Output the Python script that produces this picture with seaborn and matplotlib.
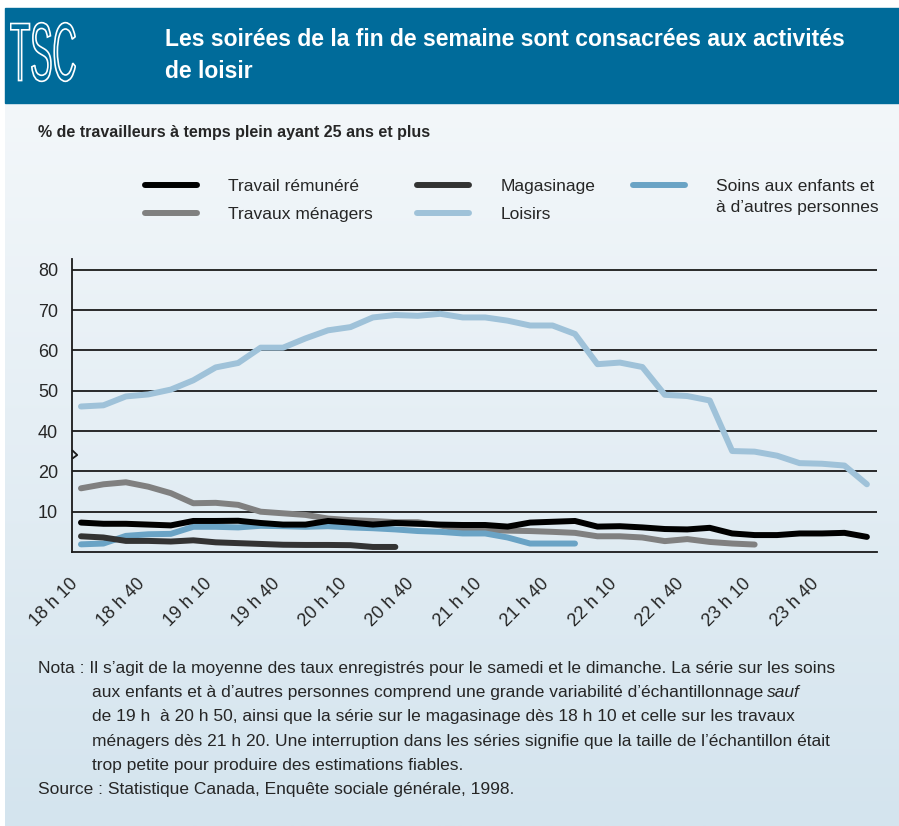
import numpy as np
import pandas as pd
import seaborn as sns
import matplotlib.pyplot as plt
from matplotlib.lines import Line2D
from matplotlib.patches import Rectangle, PathPatch
from matplotlib.textpath import TextPath
from matplotlib.font_manager import FontProperties
from matplotlib.colors import LinearSegmentedColormap

# heures (tranches de 10 minutes, 18 h 10 a 24 h 00)
heures = [f"{h} h {m}" if m else f"{h} h 00" for h in range(18, 25) for m in (0, 10, 20, 30, 40, 50)][1:37]

travail = [7.3, 7.0, 7.0, 6.8, 6.6, 7.7, 7.7, 7.75, 7.2, 6.8,
           6.8, 7.7, 7.3, 6.8, 7.2, 7.0, 6.8, 6.7, 6.7, 6.3,
           7.3, 7.5, 7.7, 6.3, 6.4, 6.1, 5.7, 5.6, 6.0, 4.6,
           4.2, 4.2, 4.6, 4.6, 4.75, 3.75]
travaux = [15.8, 16.8, 17.3, 16.2, 14.6, 12.1, 12.2, 11.7, 10.0, 9.6,
           9.2, 8.3, 7.9, 7.7, 7.4, 7.4, 6.6, 5.5, 5.4, 5.3,
           5.2, 5.0, 4.75, 3.9, 3.9, 3.6, 2.7, 3.2, 2.5, 2.1, 1.85]
magasinage = [3.9, 3.6, 2.75, 2.75, 2.6, 2.9, 2.4, 2.2, 2.0, 1.8,
              1.75, 1.75, 1.7, 1.25, 1.25]
loisirs = [46.1, 46.4, 48.6, 49.1, 50.3, 52.6, 55.8, 56.9, 60.7, 60.7,
           63.0, 65.0, 65.8, 68.2, 68.8, 68.6, 69.1, 68.2, 68.2, 67.4,
           66.2, 66.2, 64.1, 56.6, 57.0, 55.9, 49.0, 48.7, 47.6, 30.1,
           29.8, 27.8, 24.1, 23.8, 22.9, 16.8]
soins = [1.9, 2.1, 4.0, 4.4, 4.5, 6.25, 6.25, 6.1, 6.5, 6.4,
         6.25, 6.4, 6.1, 5.9, 5.6, 5.2, 5.0, 4.6, 4.6, 3.6,
         2.1, 2.1, 2.1]

noms = ["Loisirs", "Travaux ménagers", "Soins aux enfants et à d’autres personnes",
        "Magasinage", "Travail rémunéré"]
series = [loisirs, travaux, soins, magasinage, travail]
couleurs = ["#9fc2d9", "#808080", "#6aa3c5", "#333333", "#000000"]

df = pd.concat([pd.DataFrame({"pos": np.arange(len(v)), "val": v, "serie": n})
                for n, v in zip(noms, series)], ignore_index=True)

sns.set_style("white")
plt.rcParams['font.family'] = ['Liberation Sans Narrow', 'Liberation Sans', 'DejaVu Sans']
plt.rcParams['lines.solid_capstyle'] = 'round'
plt.rcParams['lines.solid_joinstyle'] = 'round'

W, H = 899, 826
fig = plt.figure(figsize=(W / 100, H / 100), dpi=100)
fig.patch.set_facecolor('white')

# fond degrade
bg = fig.add_axes([5 / W, 0, 894 / W, 1 - 103 / H], zorder=-5)
grad = np.linspace(0, 1, 256).reshape(-1, 1)
cmap = LinearSegmentedColormap.from_list("bg", ["#f3f7fa", "#d4e4ee"])
bg.imshow(grad, aspect='auto', cmap=cmap, extent=(0, 1, 0, 1))
bg.axis('off')

# bandeau
fig.patches.append(Rectangle((5 / W, 1 - 103 / H), 894 / W, 95 / H,
                             transform=fig.transFigure, color='#006b9a', zorder=0))
logo = fig.add_axes([10 / W, 1 - 83 / H, 66 / W, 62 / H], zorder=5)
tp = TextPath((0, 0), "TSC", size=1, prop=FontProperties(family=['Liberation Sans', 'DejaVu Sans']))
ext = tp.get_extents()
logo.add_patch(PathPatch(tp, facecolor='#006b9a', edgecolor='white', lw=1.2))
logo.set_xlim(ext.x0 - 0.02, ext.x1 + 0.02)
logo.set_ylim(ext.y0 - 0.02, ext.y1 + 0.02)
logo.axis('off')

fig.text(165 / W, 1 - 40 / H, "Les soirées de la fin de semaine sont consacrées aux activités",
         color='white', fontsize=16.5, fontweight='bold', va='center')
fig.text(165 / W, 1 - 71 / H, "de loisir",
         color='white', fontsize=16.5, fontweight='bold', va='center')

fig.text(38 / W, 1 - 133 / H, "% de travailleurs à temps plein ayant 25 ans et plus",
         fontsize=11.5, fontweight='bold', va='center', family=['Liberation Sans', 'DejaVu Sans'])

# graphique
ax = fig.add_axes([72 / W, 1 - 552 / H, 805 / W, 293 / H])
ax.set_facecolor('none')


def fwd(v):
    v = np.asarray(v, float)
    return np.where(v <= 20, v, np.where(v <= 40, 20 + (v - 20) / 2, v - 10))


def inv(u):
    u = np.asarray(u, float)
    return np.where(u <= 20, u, np.where(u <= 30, 20 + (u - 20) * 2, u + 10))


ax.set_yscale('function', functions=(fwd, inv))
sns.lineplot(data=df, x="pos", y="val", hue="serie", hue_order=noms, palette=couleurs,
             linewidth=4.3, legend=False, sort=False, estimator=None, ax=ax)

ax.set_xlim(-0.4, 35.45)
ax.set_ylim(0, 82.7)
ax.set_yticks([10, 20, 40, 50, 60, 70, 80])
ax.set_yticklabels(["10", "20", "40", "50", "60", "70", "80"])
pos = np.arange(len(heures))
ax.set_xticks(pos[::3])
ax.set_xticklabels(heures[::3], rotation=45, ha='right', va='top')
ax.tick_params(axis='x', length=0, pad=17, labelsize=13)
ax.tick_params(axis='y', length=0, pad=10, labelsize=13)
ax.set_xlabel("")
ax.set_ylabel("")
ax.yaxis.grid(True, color='#1a1a1a', lw=1.3)
ax.set_axisbelow(True)
for s in ('top', 'right'):
    ax.spines[s].set_visible(False)
for s in ('left', 'bottom'):
    ax.spines[s].set_color('#1a1a1a')
    ax.spines[s].set_linewidth(1.3)

# symbole de coupure sur l'axe
ax.plot([0, 0.0065, 0], [0.348, 0.331, 0.318], transform=ax.transAxes,
        color='#1a1a1a', lw=1.3, clip_on=False, solid_capstyle='butt')

# legende (trois colonnes)
kw = dict(frameon=False, loc='upper left', fontsize=12.5, handlelength=3.0,
          handletextpad=1.8, borderpad=0, borderaxespad=0)
leg_y = 1 - 179 / H
fig.legend([Line2D([], [], color=couleurs[4], lw=4.3), Line2D([], [], color=couleurs[1], lw=4.3)],
           ["Travail rémunéré", "Travaux ménagers"], bbox_to_anchor=(145 / W, leg_y),
           labelspacing=0.75, **kw)
fig.legend([Line2D([], [], color=couleurs[3], lw=4.3), Line2D([], [], color=couleurs[0], lw=4.3)],
           ["Magasinage", "Loisirs"], bbox_to_anchor=(417 / W, leg_y),
           labelspacing=0.75, **kw)
fig.legend([Line2D([], [], color=couleurs[2], lw=4.3), Line2D([], [], color='none')],
           ["Soins aux enfants et", "à d’autres personnes"], bbox_to_anchor=(633 / W, leg_y),
           labelspacing=0.3, **kw)

# notes (alignees sur la ligne de base)
note_kw = dict(fontsize=12.5, va='baseline')
fig.text(38 / W, 1 - 673 / H, "Nota : Il s’agit de la moyenne des taux enregistrés pour le samedi et le dimanche. La série sur les soins", **note_kw)
t2 = fig.text(92 / W, 1 - 697 / H, "aux enfants et à d’autres personnes comprend une grande variabilité d’échantillonnage", **note_kw)
bg.annotate("sauf", xy=(1, 1 - 697 / H), xycoords=(t2, 'figure fraction'), xytext=(3, 0),
            textcoords='offset points', va='baseline', ha='left', fontsize=12.5, style='italic')
fig.text(92 / W, 1 - 721 / H, "de 19 h  à 20 h 50, ainsi que la série sur le magasinage dès 18 h 10 et celle sur les travaux", **note_kw)
fig.text(92 / W, 1 - 746 / H, "ménagers dès 21 h 20. Une interruption dans les séries signifie que la taille de l’échantillon était", **note_kw)
fig.text(92 / W, 1 - 770 / H, "trop petite pour produire des estimations fiables.", **note_kw)
fig.text(38 / W, 1 - 794 / H, "Source : Statistique Canada, Enquête sociale générale, 1998.", **note_kw)

fig.savefig("out.png", dpi=100)
